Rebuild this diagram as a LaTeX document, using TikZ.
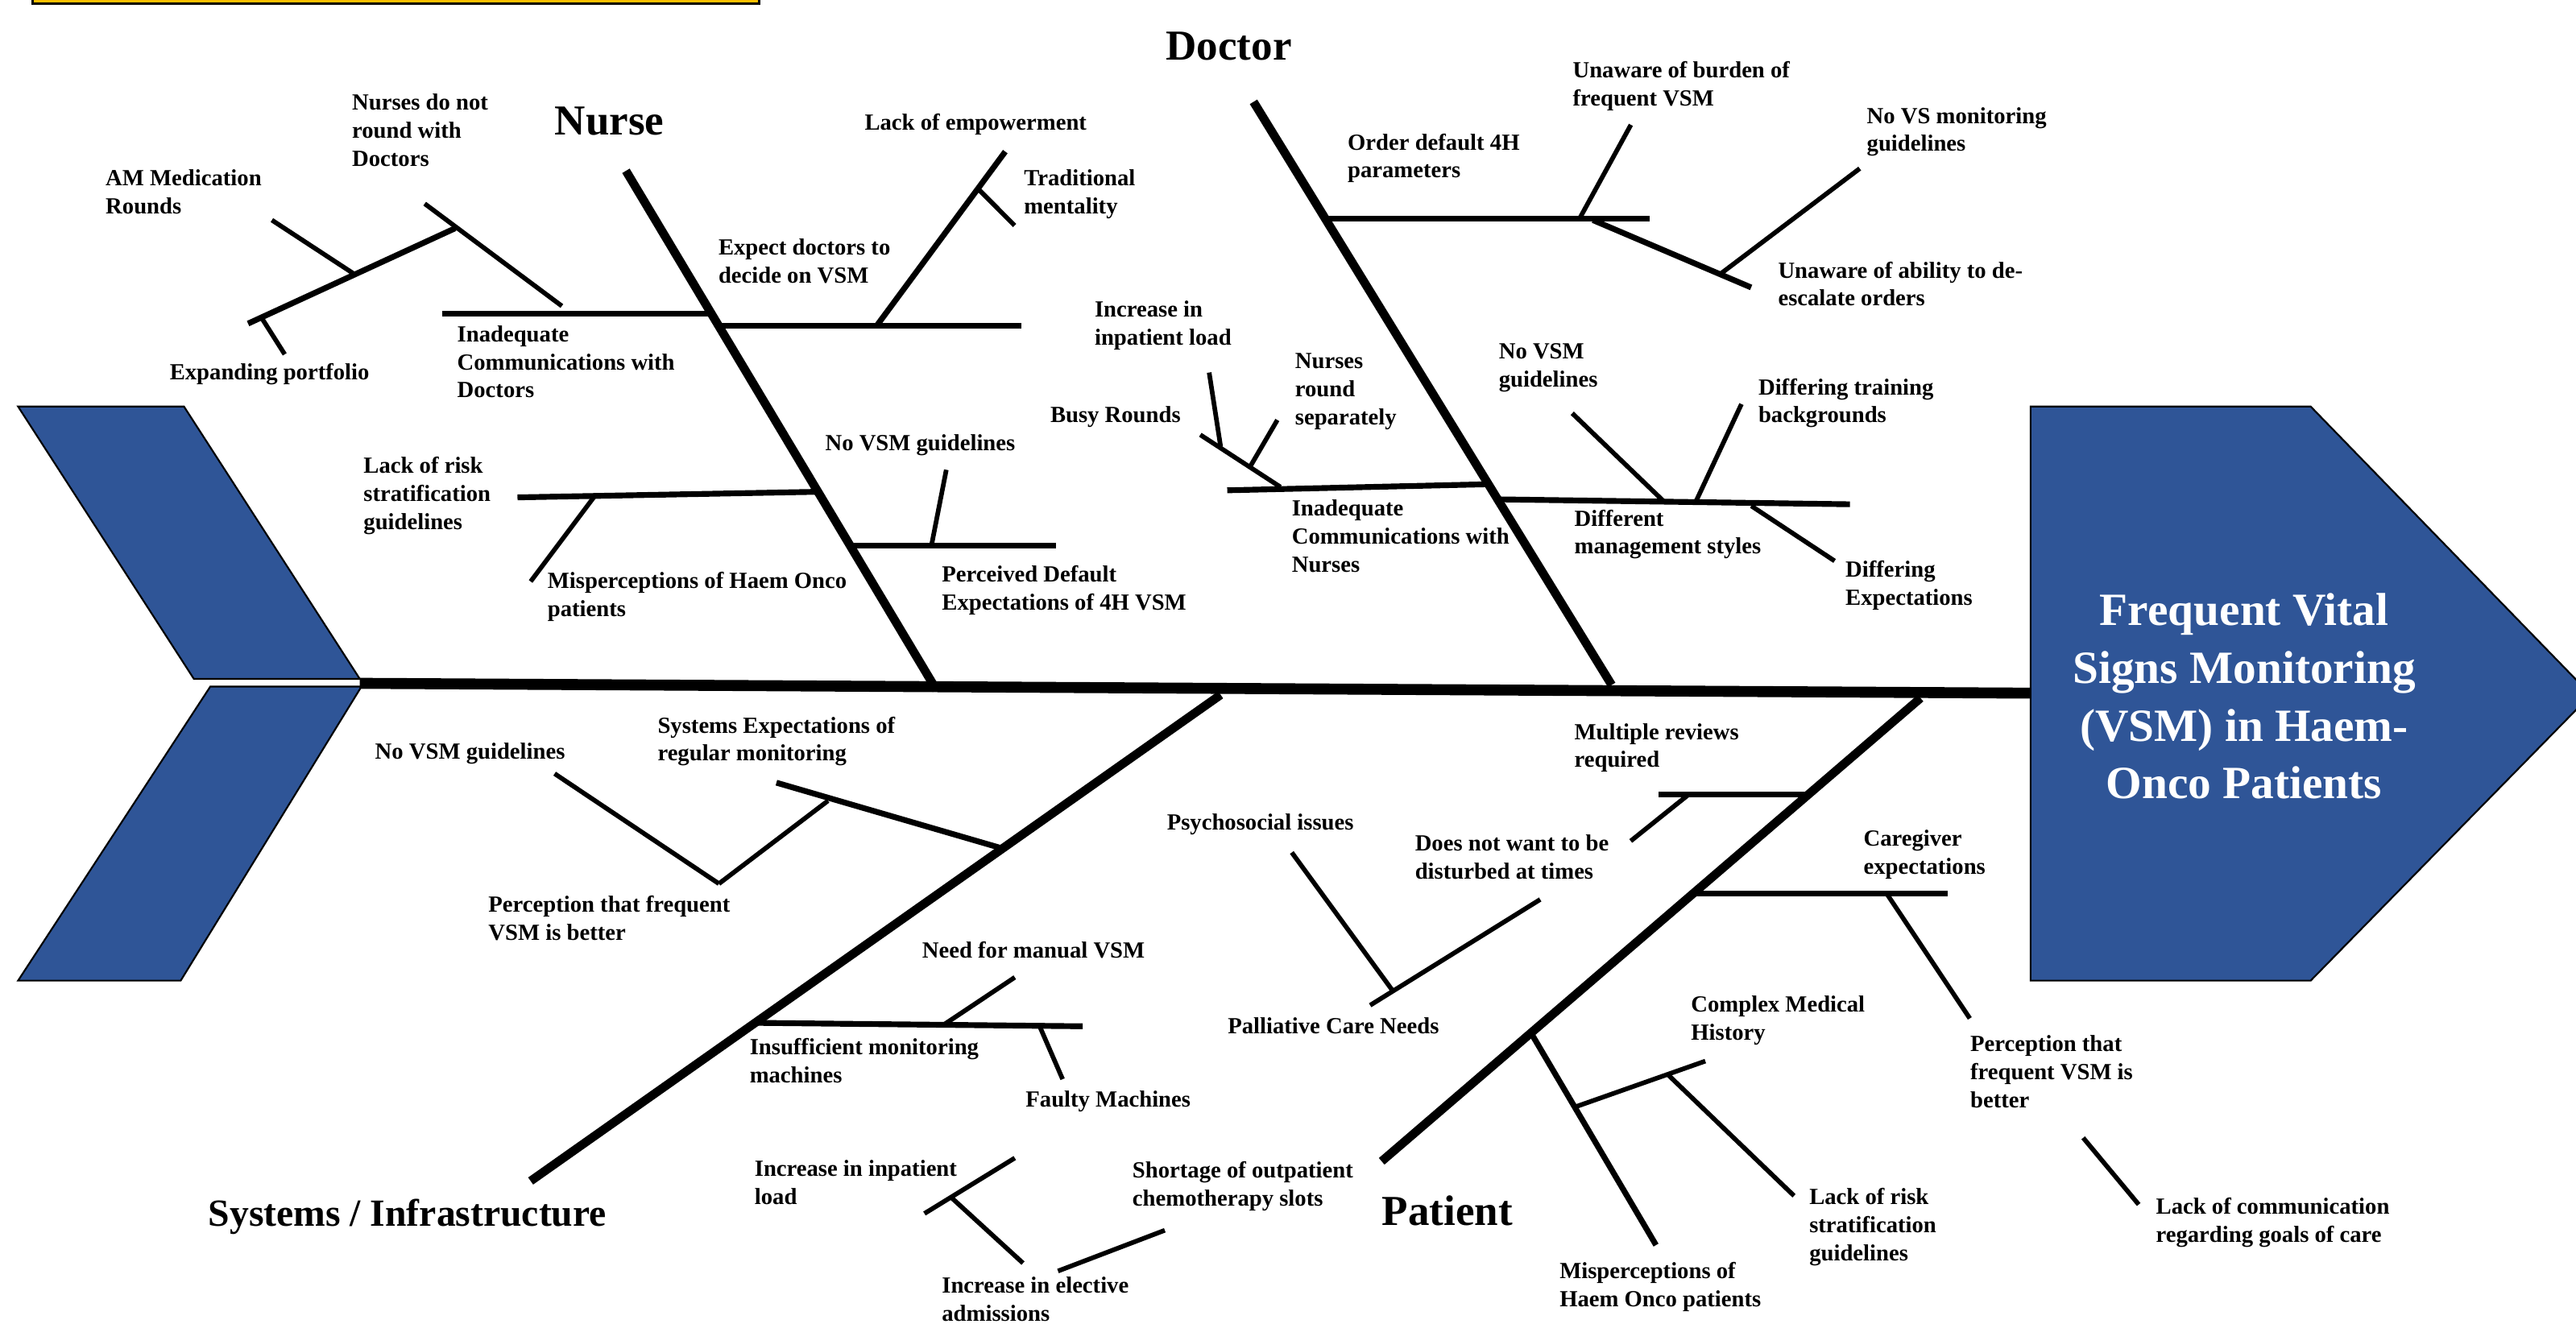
\documentclass[tikz,border=0pt]{standalone}
\usepackage{fontspec}
\setmainfont{Liberation Serif}

\definecolor{fishblue}{HTML}{2F5597}
\definecolor{boxyellow}{HTML}{FFC000}

\begin{document}
\begin{tikzpicture}[x=0.02cm, y=-0.02cm,
  spine/.style={line width=3.8pt},
  bone/.style={line width=3pt},
  rib/.style={line width=2pt},
  twig/.style={line width=1.6pt},
  fin/.style={fill=fishblue, draw=black, line width=0.6pt},
  lbl/.style={anchor=north west, inner sep=0pt, align=left,
    font=\fontsize{8}{9.7}\selectfont\bfseries},
  cat/.style={inner sep=0pt, font=\fontsize{14.8}{17}\selectfont\bfseries}]
\useasboundingbox (0,0) rectangle (1568,805.6);

% box cut off at the top
\draw [fill=boxyellow, line width=0.8pt] (20,-20) rectangle (462,2.3);

% tail
\draw [fin] (11,247.5) -- (112,247.5) -- (219,413.3) -- (118,413.3) -- cycle;
\draw [fin] (128,418) -- (220,418) -- (110,597) -- (11,597) -- cycle;

% spine
\draw [spine] (219,416) -- (1237,422);

% head
\draw [fin] (1236,247.5) -- (1406.5,247.5) -- (1577,423) -- (1406.5,597) -- (1236,597) -- cycle;
\node [text=white, align=center, inner sep=0pt,
  font=\fontsize{16}{20}\selectfont\bfseries] (effect) at (1366,424)
  {Frequent Vital\\Signs Monitoring\\(VSM) in Haem-\\Onco Patients};

% main bones
\draw [bone] (381,104) -- (570,420);
\draw [bone] (763,62) -- (981,417);
\draw [bone] (743,423) -- (323,719);
\draw [bone] (1169,425) -- (841,707);

\node [cat] (nurse) at (371,74) {Nurse};
\node [cat] (doctor) at (748,28) {Doctor};
\node [cat, font=\fontsize{13.3}{16}\selectfont\bfseries] (systems) at (248,741) {Systems / Infrastructure};
\node [cat] (patient) at (881,737) {Patient};

% nurse: communications with doctors
\draw [rib] (269,191) -- (433,191);
\draw [rib] (151,197) -- (277,139);
\draw [twig] (165.5,134) -- (215.4,166.7);
\draw [twig] (258.5,124) -- (342,186.3);
\draw [twig] (159.3,193.6) -- (173.3,215.7);
\node [lbl] (amrounds) at (64,103) {AM Medication\\Rounds};
\node [lbl] (noround) at (214,57) {Nurses do not\\round with\\Doctors};
\node [lbl] (portfolio) at (103,221) {Expanding portfolio};
\node [lbl] (commdoc) at (278,198) {Inadequate\\Communications with\\Doctors};

% nurse: expect doctors to decide
\draw [rib] (437,198.5) -- (621.7,198.5);
\draw [rib] (611.9,92.3) -- (533.5,198.5);
\draw [twig] (595.6,115.2) -- (617.6,137.3);
\node [lbl] (expect) at (437,145) {Expect doctors to\\decide on VSM};
\node [lbl] (empower) at (526,69) {Lack of empowerment};
\node [lbl] (tradition) at (623,103) {Traditional\\mentality};

% nurse: risk stratification
\draw [rib] (315,302.8) -- (498,299.4);
\draw [twig] (362,302) -- (323,354);
\node [lbl] (riskn) at (221,278) {Lack of risk\\stratification\\guidelines};
\node [lbl] (mispern) at (333,348) {Misperceptions of Haem Onco\\patients};

% nurse: perceived default
\draw [rib] (518,332) -- (643,332);
\draw [twig] (576,286) -- (567,332);
\node [lbl] (novsmn) at (502,264) {No VSM guidelines};
\node [lbl] (perceived) at (573,344) {Perceived Default\\Expectations of 4H VSM};

% doctor: default parameters
\draw [rib] (806,133) -- (1004,133);
\draw [twig] (992.7,76) -- (961.5,133);
\draw [rib] (969.6,134) -- (1065.9,175);
\draw [twig] (1132,102.6) -- (1046.9,167);
\node [lbl] (order) at (820,81) {Order default 4H\\parameters};
\node [lbl] (burden) at (957,37) {Unaware of burden of\\frequent VSM};
\node [lbl] (novs) at (1136,65) {No VS monitoring\\guidelines};
\node [lbl] (deesc) at (1082,159) {Unaware of ability to de-\\escalate orders};

% doctor: communications with nurses
\draw [rib] (747,298.5) -- (906,294.8);
\draw [twig] (730.6,264.7) -- (779.4,296.5);
\draw [twig] (736,226.8) -- (743,272);
\draw [twig] (777.5,255.7) -- (761,284);
\node [lbl] (loadd) at (666,183) {Increase in\\inpatient load};
\node [lbl] (busy) at (639,247) {Busy Rounds};
\node [lbl] (separate) at (788,215) {Nurses\\round\\separately};
\node [lbl] (commnur) at (786,304) {Inadequate\\Communications with\\Nurses};

% doctor: management styles
\draw [rib] (912,304) -- (1126,307);
\draw [twig] (957,251.6) -- (1013,305.5);
\draw [twig] (1060,246) -- (1032,305.9);
\draw [twig] (1066,308) -- (1116.7,341.5);
\node [lbl] (novsmd) at (912,209) {No VSM\\guidelines};
\node [lbl] (training) at (1070,230) {Differing training\\backgrounds};
\node [lbl] (styles) at (958,310) {Different\\management styles};
\node [lbl] (expectd) at (1123,341) {Differing\\Expectations};

% systems: expectations of monitoring
\draw [rib] (472.6,476.5) -- (610,516.5);
\draw [twig] (504,487.5) -- (437.6,538);
\draw [twig] (337.6,471) -- (437.6,538);
\node [lbl] (novsms) at (228,452) {No VSM guidelines};
\node [lbl] (sysexp) at (400,436) {Systems Expectations of\\regular monitoring};
\node [lbl] (percs) at (297,545) {Perception that frequent\\VSM is better};

% systems: machines
\draw [rib] (459,622.7) -- (659,624.8);
\draw [twig] (617.7,595) -- (575,623.5);
\draw [twig] (632.7,624.5) -- (646.8,657);
\node [lbl] (manual) at (561,573) {Need for manual VSM};
\node [lbl] (machines) at (456,632) {Insufficient monitoring\\machines};
\node [lbl] (faulty) at (624,664) {Faulty Machines};

% systems: admissions
\draw [twig] (617.7,705) -- (562.7,738.8);
\draw [twig] (579,729) -- (622.7,769);
\draw [twig] (709,749) -- (644,773.8);
\node [lbl] (loads) at (459,706) {Increase in inpatient\\load};
\node [lbl] (elective) at (573,777) {Increase in elective\\admissions};
\node [lbl] (shortage) at (689,707) {Shortage of outpatient\\chemotherapy slots};

% patient: palliative care
\draw [twig] (786.3,519) -- (847.6,603);
\draw [twig] (937.5,547.6) -- (834,612);
\node [lbl] (psycho) at (710,495) {Psychosocial issues};
\node [lbl] (palliative) at (747,619) {Palliative Care Needs};

% patient: reviews
\draw [rib] (1009.5,483.6) -- (1100.5,483.6);
\draw [twig] (1027.5,484) -- (992.6,512);
\node [lbl] (reviews) at (958,440) {Multiple reviews\\required};
\node [lbl] (disturb) at (861,508) {Does not want to be\\disturbed at times};

% patient: caregiver
\draw [rib] (1030,544) -- (1185.3,544);
\draw [twig] (1148.4,544) -- (1199,620);
\node [lbl] (caregiver) at (1134,505) {Caregiver\\expectations};
\node [lbl] (percp) at (1199,630) {Perception that\\frequent VSM is\\better};

% patient: misperceptions
\draw [rib] (932,629) -- (1008,758);
\draw [twig] (1038,646) -- (958.5,674);
\draw [twig] (1015,654) -- (1092,728);
\node [lbl] (complex) at (1029,606) {Complex Medical\\History};
\node [lbl] (riskp) at (1101,723) {Lack of risk\\stratification\\guidelines};
\node [lbl] (misperp) at (949,768) {Misperceptions of\\Haem Onco patients};

% patient: goals of care
\draw [twig] (1268,692.7) -- (1301.8,733.3);
\node [lbl] (goals) at (1312,729) {Lack of communication\\regarding goals of care};
\end{tikzpicture}
\end{document}
